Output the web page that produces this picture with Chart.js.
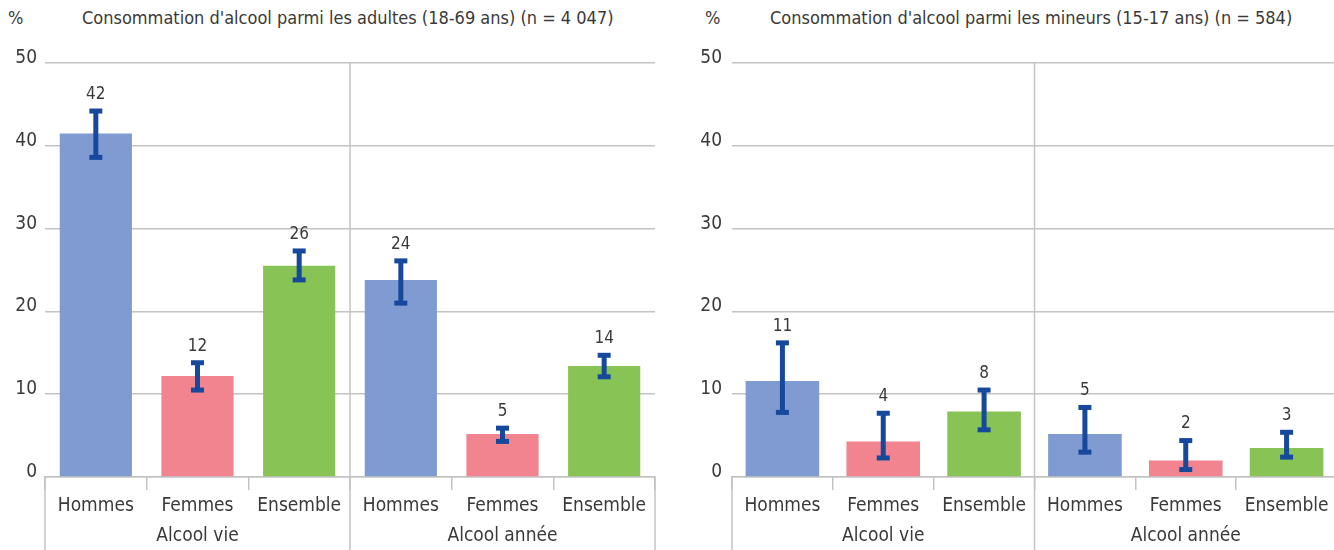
<!DOCTYPE html>
<html>
<head>
<meta charset="utf-8">
<script src="https://cdn.jsdelivr.net/npm/chart.js@4.4.1/dist/chart.umd.min.js"></script>
<style>
  html, body { margin: 0; padding: 0; background: #fff; }
  body { width: 1334px; height: 550px; position: relative; overflow: hidden;
         font-family: 'Liberation Sans Narrow', 'DejaVu Sans Condensed', sans-serif; color: #3a3a3a; }
  .box { position: absolute; top: 0; height: 550px; }
  .pct, .ttl { position: absolute; top: 6px; font-size: 18px; line-height: 24px; white-space: nowrap; }
</style>
</head>
<body>
<div class="pct" style="left:8px">%</div>
<div class="ttl" style="left:82px">Consommation d'alcool parmi les adultes (18-69 ans) (n = 4 047)</div>
<div class="pct" style="left:705px">%</div>
<div class="ttl" style="left:770px">Consommation d'alcool parmi les mineurs (15-17 ans) (n = 584)</div>
<div class="box" style="left:0; width:667px"><canvas id="adultes"></canvas></div>
<div class="box" style="left:680px; width:660px"><canvas id="mineurs"></canvas></div>
<script>
// catégories et groupes
const categories = ['Hommes', 'Femmes', 'Ensemble', 'Hommes', 'Femmes', 'Ensemble'];
const groups = ['Alcool vie', 'Alcool année'];
const yTicks = [0, 10, 20, 30, 40, 50];

// adultes 18-69 ans
const adultValues = [41.5, 12.2, 25.5, 23.8, 5.2, 13.4];
const adultLow    = [38.6, 10.5, 23.8, 21.0, 4.3, 12.1];
const adultHigh   = [44.2, 13.8, 27.3, 26.1, 5.9, 14.7];
const adultLabels = ['42', '12', '26', '24', '5', '14'];

// mineurs 15-17 ans
const minorValues = [11.6, 4.3, 7.9, 5.2, 2.0, 3.5];
const minorLow    = [7.8, 2.3, 5.7, 3.0, 0.9, 2.4];
const minorHigh   = [16.2, 7.7, 10.5, 8.4, 4.4, 5.4];
const minorLabels = ['11', '4', '8', '5', '2', '3'];

const barColors = ['#7f9bd1', '#f2848f', '#88c455', '#7f9bd1', '#f2848f', '#88c455'];
const errColor = '#16499c';
const gridColor = '#c3c3c3';
const textColor = '#3a3a3a';
const FONT = "'Liberation Sans Narrow', 'DejaVu Sans Condensed', sans-serif";

// barres d'erreur, étiquettes, séparateur et libellés de groupe
const decorPlugin = {
    id: 'decor',
    afterDatasetsDraw(chart) {
        const { ctx, scales: { y } } = chart;
        const ds = chart.data.datasets[0];
        const meta = chart.getDatasetMeta(0);
        ctx.save();
        meta.data.forEach((bar, i) => {
            const yl = y.getPixelForValue(ds.errLow[i]);
            const yh = y.getPixelForValue(ds.errHigh[i]);
            ctx.fillStyle = errColor;
            ctx.fillRect(bar.x - 2.5, yh, 5, yl - yh);
            ctx.fillRect(bar.x - 6.5, yh - 2.5, 13, 5);
            ctx.fillRect(bar.x - 6.5, yl - 2.5, 13, 5);
            ctx.fillStyle = textColor;
            ctx.font = '17px ' + FONT;
            ctx.textAlign = 'center';
            ctx.textBaseline = 'bottom';
            ctx.fillText(ds.valueLabels[i], bar.x, yh - 8);
        });
        ctx.restore();
    },
    afterDraw(chart) {
        const { ctx, chartArea, scales: { x } } = chart;
        const H = chart.height;
        const mid = (x.getPixelForValue(2) + x.getPixelForValue(3)) / 2;
        ctx.save();
        ctx.strokeStyle = gridColor;
        ctx.lineWidth = 1.5;
        ctx.beginPath();
        ctx.moveTo(mid, chartArea.top); ctx.lineTo(mid, H);
        ctx.moveTo(x.left, chartArea.bottom); ctx.lineTo(x.left, H);
        ctx.moveTo(x.right, chartArea.bottom); ctx.lineTo(x.right, H);
        ctx.stroke();
        ctx.fillStyle = textColor;
        ctx.font = '19px ' + FONT;
        ctx.textAlign = 'center';
        ctx.textBaseline = 'middle';
        ctx.fillText(groups[0], (x.left + mid) / 2, chartArea.bottom + 59);
        ctx.fillText(groups[1], (mid + x.right) / 2, chartArea.bottom + 59);
        ctx.restore();
    }
};

function makeChart(id, values, low, high, labels, axisWidth, padRight, tickPad, barPct) {
    return new Chart(document.getElementById(id), {
        type: 'bar',
        data: {
            labels: categories,
            datasets: [{
                data: values,
                backgroundColor: barColors,
                borderWidth: 0,
                barPercentage: barPct,
                categoryPercentage: 1,
                errLow: low,
                errHigh: high,
                valueLabels: labels,
            }],
        },
        options: {
            responsive: true,
            maintainAspectRatio: false,
            animation: false,
            layout: { padding: { top: 63, right: padRight, left: 0, bottom: 0 } },
            plugins: {
                legend: { display: false },
                tooltip: { enabled: false },
            },
            scales: {
                x: {
                    grid: {
                        display: true,
                        drawOnChartArea: false,
                        tickLength: 13,
                        color: gridColor,
                        lineWidth: 1.5,
                    },
                    border: { display: true, color: gridColor, width: 1.5 },
                    ticks: {
                        color: textColor,
                        font: { family: FONT, size: 19 },
                        padding: 5,
                        maxRotation: 0,
                        autoSkip: false,
                    },
                    afterFit(scale) { scale.height = 73; },
                },
                y: {
                    min: 0,
                    max: 50,
                    afterBuildTicks(scale) { scale.ticks = yTicks.map(v => ({ value: v })); },
                    grid: { color: gridColor, lineWidth: 1.5, drawTicks: false },
                    border: { display: false },
                    ticks: {
                        color: textColor,
                        font: { family: FONT, size: 19 },
                        padding: tickPad,
                        labelOffset: -5,
                    },
                    afterFit(scale) { scale.width = axisWidth; },
                },
            },
        },
        plugins: [decorPlugin],
    });
}

makeChart('adultes', adultValues, adultLow, adultHigh, adultLabels, 45, 12, 8, 0.71);
makeChart('mineurs', minorValues, minorLow, minorHigh, minorLabels, 52, 3, 10, 0.73);
</script>
</body>
</html>
